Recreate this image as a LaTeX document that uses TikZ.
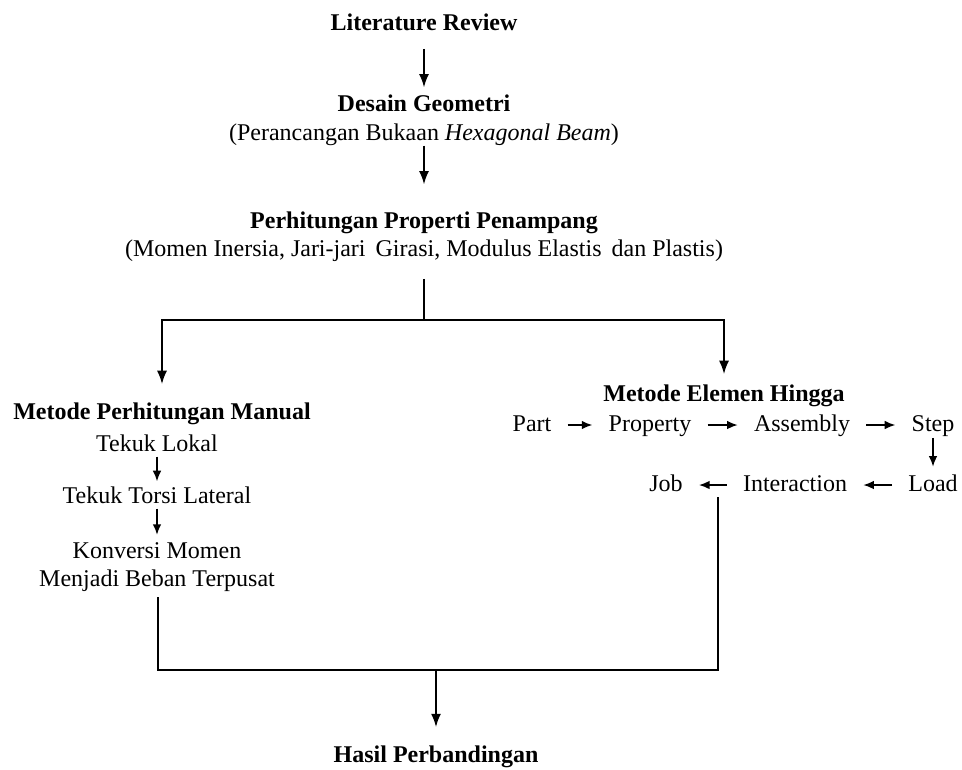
\documentclass[tikz,border=0pt]{standalone}
\usepackage{fontspec}
\setmainfont{Liberation Serif}
\usetikzlibrary{arrows.meta}
\begin{document}
\begin{tikzpicture}[x=0.75pt,y=-0.75pt,
  txt/.style={font=\fontsize{18}{21}\selectfont, inner sep=0pt, text height=13pt, text depth=4pt},
  ttl/.style={txt, font=\fontsize{18}{21}\selectfont\bfseries},
  rowtxt/.style={txt, inner xsep=12pt},
  arr/.style={-{Latex[length=10pt,width=7.5pt]}, line width=1.3pt},
  sarr/.style={-{Latex[length=8pt,width=6.5pt]}, line width=1.3pt},
  ln/.style={line width=1.3pt}]
\useasboundingbox (0,0) rectangle (962,769);
% top chain
\node[ttl] (lit) at (424,24) {Literature Review};
\node[ttl] (des) at (424,105) {Desain Geometri};
\node[txt] (desSub) at (424,134) {(Perancangan Bukaan \textit{Hexagonal Beam})};
\node[ttl] (per) at (424,222) {Perhitungan Properti Penampang};
\node[txt] (perSub) at (424,250) {(Momen Inersia, Jari-jari\, Girasi, Modulus Elastis\, dan Plastis)};
\coordinate (split) at (424,320);
% left branch
\node[ttl] (man) at (162,413) {Metode Perhitungan Manual};
\node[txt] (tl) at (157,445) {Tekuk Lokal};
\node[txt] (ttlat) at (157,497) {Tekuk Torsi Lateral};
\node[font=\fontsize{18}{21}\selectfont, inner sep=0pt, align=center] (konv) at (157,567) {Konversi Momen\\Menjadi Beban Terpusat};
% right branch
\node[ttl] (fem) at (724,395) {Metode Elemen Hingga};
\node[rowtxt] (part) at (532,425) {Part};
\node[rowtxt] (prop) at (650,425) {Property};
\node[rowtxt] (asm) at (802,425) {Assembly};
\node[rowtxt] (step) at (933,425) {Step};
\node[rowtxt] (load) at (933,485) {Load};
\node[rowtxt] (inter) at (795,485) {Interaction};
\node[rowtxt] (job) at (666,485) {Job};
% bottom
\coordinate (jl) at (158,670);
\coordinate (jr) at (718,670);
\coordinate (jm) at (436,670);
\node[ttl] (hasil) at (436,756) {Hasil Perbandingan};
% connectors
\draw[arr, shorten <=10pt, shorten >=4.5pt] (lit) -- (des);
\draw[arr, shorten >=19.5pt] (desSub) -- (per);
\draw[ln, shorten <=13pt] (perSub) -- (split);
\draw[arr, shorten >=13pt] (split) -| (man);
\draw[arr, shorten >=7pt] (split) -| (fem);
\draw[sarr, shorten >=3pt] (tl) -- (ttlat);
\draw[sarr, shorten >=5.5pt] (ttlat) -- (konv);
\draw[sarr] (part) -- (prop);
\draw[sarr] (prop) -- (asm);
\draw[sarr] (asm) -- (step);
\draw[sarr, shorten <=1pt, shorten >=5pt] (step) -- (load);
\draw[sarr] (load) -- (inter);
\draw[sarr] (inter) -- (job);
\draw[ln, shorten <=4pt] (konv.south -| jl) -- (jl) -- (jr) -- (inter.south -| jr);
\draw[arr, shorten >=13pt] (jm) -- (hasil);
\end{tikzpicture}
\end{document}
